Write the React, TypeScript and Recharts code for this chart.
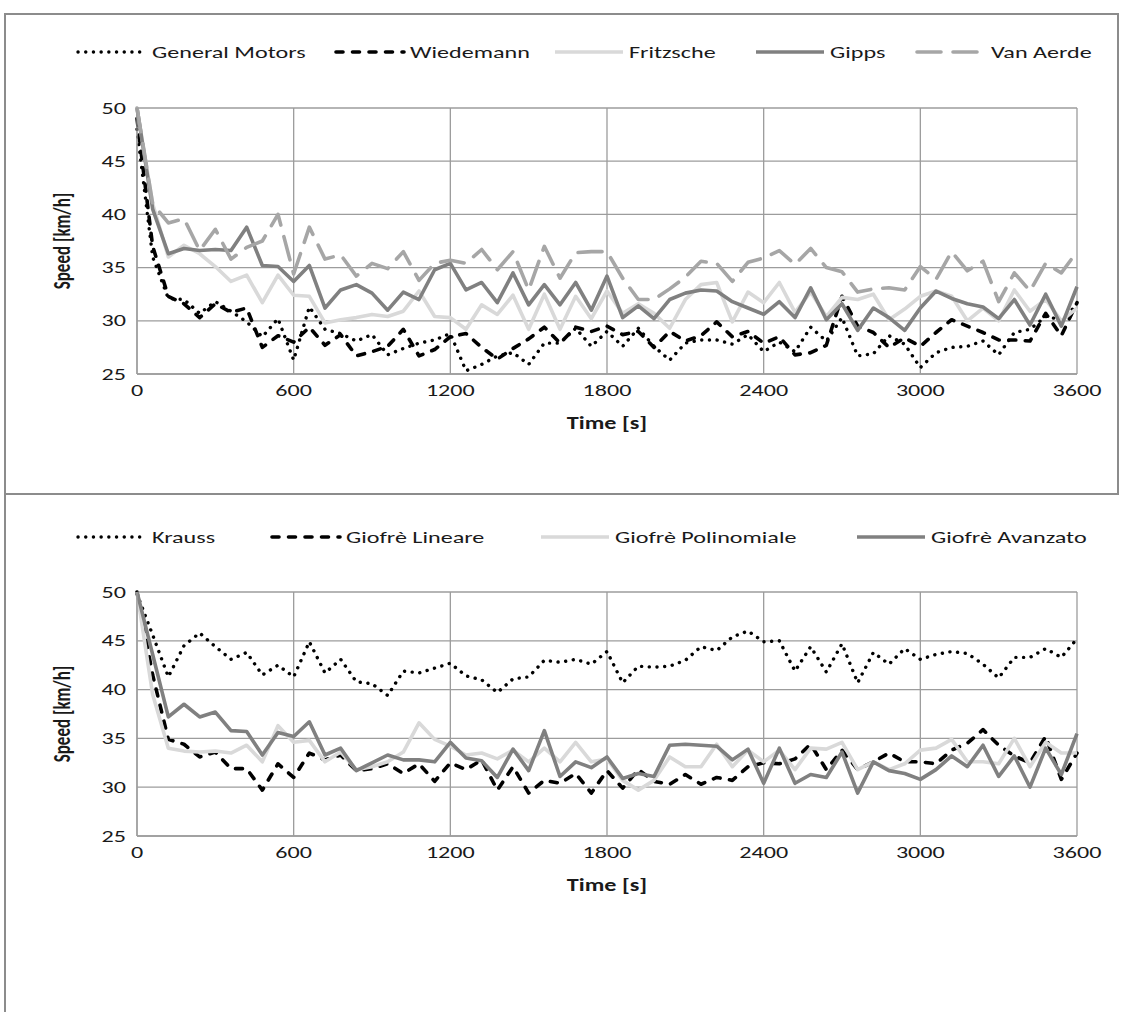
import React from 'react';
import { LineChart, Line, XAxis, YAxis, CartesianGrid } from 'recharts';

// ---------- data ----------
const TIME = [0, 60, 120, 180, 240, 300, 360, 420, 480, 540, 600, 660, 720, 780, 840, 900, 960, 1020, 1080, 1140, 1200, 1260, 1320, 1380, 1440, 1500, 1560, 1620, 1680, 1740, 1800, 1860, 1920, 1980, 2040, 2100, 2160, 2220, 2280, 2340, 2400, 2460, 2520, 2580, 2640, 2700, 2760, 2820, 2880, 2940, 3000, 3060, 3120, 3180, 3240, 3300, 3360, 3420, 3480, 3540, 3600];

const X_TICKS = [0, 600, 1200, 1800, 2400, 3000, 3600];
const Y_TICKS = [25, 30, 35, 40, 45, 50];

const GENERAL_MOTORS = [48, 36, 32.1, 32.0, 30.7, 31.8, 30.9, 29.9, 28.5, 30.2, 26.3, 31.3, 29.2, 28.8, 28.1, 28.7, 26.8, 27.4, 27.9, 28.2, 28.8, 25.3, 25.9, 26.7, 27.0, 25.9, 27.9, 27.9, 29.3, 27.6, 29.0, 27.6, 29.3, 27.6, 26.3, 27.9, 28.2, 28.2, 27.8, 28.7, 27.1, 28.0, 27.1, 29.4, 28.1, 30.3, 26.7, 26.9, 28.6, 27.8, 25.6, 27.0, 27.5, 27.6, 28.1, 26.8, 28.9, 29.2, 30.4, 30.1, 31.5];
const WIEDEMANN = [49, 37, 32.3, 31.6, 30.3, 31.6, 30.8, 31.2, 27.5, 28.6, 28.0, 29.4, 27.7, 28.7, 26.7, 27.1, 27.6, 29.2, 26.7, 27.3, 28.5, 28.8, 27.5, 26.4, 27.4, 28.3, 29.4, 27.9, 29.4, 29.0, 29.5, 28.7, 29.0, 27.5, 29.0, 28.1, 28.6, 29.9, 28.5, 29.0, 27.9, 28.5, 26.8, 27.0, 27.7, 32.3, 29.5, 28.9, 27.5, 28.4, 27.6, 28.9, 30.1, 29.5, 28.9, 28.2, 28.2, 28.1, 30.7, 28.6, 31.7];
const FRITZSCHE = [50, 41, 36.0, 37.1, 36.3, 35.1, 33.7, 34.3, 31.7, 34.3, 32.4, 32.3, 29.8, 30.1, 30.3, 30.6, 30.4, 30.9, 32.8, 30.4, 30.3, 29.2, 31.5, 30.6, 32.4, 29.2, 32.5, 29.2, 32.3, 30.2, 32.8, 30.7, 31.6, 30.7, 29.3, 32.0, 33.4, 33.6, 29.9, 32.7, 31.7, 33.6, 30.8, 32.7, 30.4, 32.2, 32.0, 32.5, 30.1, 31.1, 32.3, 32.8, 32.3, 30.0, 31.2, 30.0, 32.9, 30.9, 32.0, 30.0, 31.2];
const GIPPS = [50, 40.5, 36.3, 36.8, 36.6, 36.7, 36.6, 38.8, 35.2, 35.1, 33.7, 35.2, 31.2, 32.9, 33.4, 32.6, 31.0, 32.7, 32.0, 34.8, 35.4, 32.9, 33.6, 31.7, 34.5, 31.5, 33.4, 31.5, 33.6, 31.0, 34.2, 30.3, 31.4, 30.2, 32.0, 32.6, 32.9, 32.8, 31.8, 31.2, 30.6, 31.8, 30.3, 33.1, 30.1, 31.6, 29.1, 31.2, 30.3, 29.1, 31.2, 32.8, 32.1, 31.6, 31.3, 30.2, 32.0, 29.6, 32.5, 29.5, 33.2];
const VAN_AERDE = [50, 41, 39.2, 39.6, 36.6, 38.6, 35.8, 36.9, 37.5, 40.0, 34.4, 38.8, 35.8, 36.2, 34.2, 35.4, 34.9, 36.5, 33.8, 35.4, 35.7, 35.4, 36.7, 34.8, 36.5, 32.9, 37.0, 34.0, 36.4, 36.5, 36.5, 34.0, 32.0, 32.0, 33.0, 34.1, 35.6, 35.4, 33.7, 35.5, 35.9, 36.6, 35.3, 36.8, 35.0, 34.6, 32.7, 33.0, 33.1, 32.9, 35.1, 33.9, 36.5, 34.7, 35.6, 31.8, 34.5, 32.8, 35.4, 34.5, 36.5];

const KRAUSS = [49.8, 45.6, 41.3, 44.5, 45.8, 44.4, 43.1, 43.8, 41.5, 42.5, 41.3, 44.9, 41.7, 43.1, 40.8, 40.6, 39.4, 41.9, 41.7, 42.2, 42.7, 41.4, 41.0, 39.7, 41.1, 41.3, 43.0, 42.8, 43.1, 42.6, 43.9, 40.7, 42.4, 42.3, 42.4, 43.0, 44.4, 44.0, 45.4, 46.0, 44.9, 45.0, 41.9, 44.4, 41.8, 44.7, 40.7, 43.8, 42.6, 44.2, 43.1, 43.6, 43.9, 43.7, 42.6, 41.2, 43.3, 43.3, 44.2, 43.3, 45.2];
const GIOFRE_LINEARE = [50, 41.5, 34.9, 34.4, 33.1, 33.6, 31.9, 31.9, 29.7, 32.4, 31.0, 33.5, 32.8, 33.3, 31.7, 31.9, 32.4, 31.4, 32.4, 30.6, 32.5, 31.8, 32.8, 29.7, 32.1, 29.4, 30.7, 30.4, 31.4, 29.4, 31.7, 29.9, 31.8, 30.6, 30.3, 31.3, 30.3, 31.0, 30.7, 32.1, 32.5, 32.4, 32.9, 34.4, 31.8, 33.8, 31.8, 32.6, 33.5, 32.6, 32.6, 32.4, 33.8, 34.5, 35.9, 34.3, 33.2, 32.5, 35.2, 30.8, 33.5];
const GIOFRE_POLINOMIALE = [50, 39.5, 34.0, 33.7, 33.6, 33.7, 33.5, 34.3, 32.6, 36.3, 34.6, 34.8, 32.6, 33.6, 31.8, 32.1, 32.6, 33.6, 36.6, 34.9, 34.2, 33.3, 33.5, 32.9, 33.8, 32.6, 34.0, 32.6, 34.6, 32.6, 32.9, 30.7, 29.7, 30.7, 33.1, 32.1, 32.1, 34.4, 32.1, 33.8, 32.6, 33.8, 31.8, 34.0, 33.9, 34.6, 31.8, 32.6, 31.8, 32.4, 33.8, 34.0, 34.9, 32.6, 32.6, 32.4, 35.0, 32.1, 34.6, 33.5, 33.5];
const GIOFRE_AVANZATO = [50, 43.6, 37.2, 38.5, 37.2, 37.7, 35.8, 35.7, 33.3, 35.6, 35.2, 36.7, 33.3, 34.0, 31.7, 32.5, 33.3, 32.8, 32.8, 32.6, 34.6, 33.0, 32.7, 31.0, 33.9, 31.7, 35.8, 31.1, 32.6, 32.0, 33.1, 30.9, 31.4, 31.1, 34.3, 34.4, 34.3, 34.2, 32.8, 33.9, 30.4, 34.0, 30.4, 31.3, 31.0, 33.6, 29.4, 32.6, 31.7, 31.4, 30.8, 31.8, 33.2, 32.1, 34.3, 31.1, 33.2, 30.0, 34.0, 31.3, 35.5];

// ---------- tables built from the arrays ----------
const TOP_ROWS = TIME.map((t, i) => ({
  t,
  gm: GENERAL_MOTORS[i],
  wied: WIEDEMANN[i],
  fritz: FRITZSCHE[i],
  gipps: GIPPS[i],
  van: VAN_AERDE[i],
}));

const BOTTOM_ROWS = TIME.map((t, i) => ({
  t,
  krauss: KRAUSS[i],
  lin: GIOFRE_LINEARE[i],
  pol: GIOFRE_POLINOMIALE[i],
  avz: GIOFRE_AVANZATO[i],
}));

// ---------- styles ----------
const FONT = 'Carlito, Calibri, Lato, "Open Sans", sans-serif';
const FS = 17;
const SX = 1.42; // horizontal stretch of the reference's text
const INK = '#1a1a1a';
const GRID = '#9c9c9c';
const FRAME = '#8c8c8c';

type Sty = { key: string; name: string; color: string; width: number; dash?: string; cap?: 'round' | 'butt' };

const DOT = { color: '#000000', width: 3.4, dash: '0.1 7.6', cap: 'round' as const };
const DASH = { color: '#000000', width: 3.6, dash: '7 9.5', cap: 'round' as const };
const LIGHT = { color: '#d9d9d9', width: 3.6 };
const DARK = { color: '#808080', width: 3.6 };
const LONG = { color: '#a6a6a6', width: 3.6, dash: '24 12', cap: 'round' as const };

const TOP_STYLES: Sty[] = [
  { key: 'gm', name: 'General Motors', ...DOT },
  { key: 'wied', name: 'Wiedemann', ...DASH },
  { key: 'fritz', name: 'Fritzsche', ...LIGHT },
  { key: 'gipps', name: 'Gipps', ...DARK },
  { key: 'van', name: 'Van Aerde', ...LONG },
];

const BOTTOM_STYLES: Sty[] = [
  { key: 'krauss', name: 'Krauss', ...DOT },
  { key: 'lin', name: 'Giofrè Lineare', ...DASH },
  { key: 'pol', name: 'Giofrè Polinomiale', ...LIGHT },
  { key: 'avz', name: 'Giofrè Avanzato', ...DARK },
];

// legend layout: [sampleStart, sampleEnd, textStart] in page px
const TOP_LEGEND_POS = [
  [78, 146, 152],
  [336, 404, 410],
  [555, 623, 629],
  [756, 824, 830],
  [917, 985, 991],
];
const BOTTOM_LEGEND_POS = [
  [78, 146, 152],
  [272, 340, 346],
  [541, 609, 615],
  [857, 925, 931],
];

function SText({ x, y, anchor = 'start', bold = false, children, baseline = 'central' }: any) {
  return (
    <g transform={`translate(${x} ${y}) scale(${SX} 1)`}>
      <text
        x={0}
        y={0}
        textAnchor={anchor}
        dominantBaseline={baseline}
        fontFamily={FONT}
        fontSize={FS}
        fontWeight={bold ? 700 : 400}
        fill={INK}
      >
        {children}
      </text>
    </g>
  );
}

function Legend({ styles, pos, y }: { styles: Sty[]; pos: number[][]; y: number }) {
  return (
    <svg style={{ position: 'absolute', left: 0, top: y - 15, overflow: 'visible' }} width={1121} height={30}>
      {styles.map((s, i) => {
        const [a, b, tx] = pos[i];
        return (
          <g key={s.key}>
            <line
              x1={a}
              x2={b}
              y1={15}
              y2={15}
              stroke={s.color}
              strokeWidth={s.width}
              strokeDasharray={s.dash}
              strokeLinecap={s.cap || 'butt'}
            />
            <SText x={tx} y={15}>{s.name}</SText>
          </g>
        );
      })}
    </svg>
  );
}

const XTick = (p: any) => (
  <SText x={p.x} y={p.y + 16} anchor="middle">{p.payload.value}</SText>
);
const YTick = (p: any) => (
  <SText x={p.x} y={p.y} anchor="end">{p.payload.value}</SText>
);

function Panel({
  rows,
  styles,
  height,
  marginTop,
  marginBottom,
}: {
  rows: any[];
  styles: Sty[];
  height: number;
  marginTop: number;
  marginBottom: number;
}) {
  return (
    <LineChart
      width={1121}
      height={height}
      data={rows}
      margin={{ top: marginTop, right: 44, bottom: marginBottom, left: 77 }}
    >
      <CartesianGrid stroke={GRID} strokeWidth={1.3} />
      <XAxis
        dataKey="t"
        type="number"
        domain={[0, 3600]}
        ticks={X_TICKS}
        interval={0}
        tickLine={false}
        tickSize={0}
        tickMargin={0}
        axisLine={{ stroke: GRID, strokeWidth: 1.3 }}
        tick={XTick}
        height={58}
        label={(p: any) => {
          const vb = p.viewBox || {};
          const cx = (vb.x || 0) + (vb.width || 0) / 2;
          const cy = (vb.y || 0) + 49;
          return <SText x={cx} y={cy} anchor="middle" bold>Time [s]</SText>;
        }}
      />
      <YAxis
        type="number"
        domain={[25, 50]}
        ticks={Y_TICKS}
        interval={0}
        tickLine={false}
        tickSize={0}
        tickMargin={11}
        axisLine={{ stroke: GRID, strokeWidth: 1.3 }}
        tick={YTick}
        width={60}
        label={(p: any) => {
          const vb = p.viewBox || {};
          const cy = (vb.y || 0) + (vb.height || 0) / 2;
          return (
            <g transform={`translate(62 ${cy}) scale(${SX} 1) rotate(-90)`}>
              <text
                x={0}
                y={0}
                textAnchor="middle"
                dominantBaseline="central"
                fontFamily={FONT}
                fontSize={FS}
                fontWeight={700}
                fill={INK}
              >
                Speed [km/h]
              </text>
            </g>
          );
        }}
      />
      {styles.map((s) => (
        <Line
          key={s.key}
          dataKey={s.key}
          name={s.name}
          type="linear"
          stroke={s.color}
          strokeWidth={s.width}
          strokeDasharray={s.dash}
          strokeLinecap={s.cap || 'butt'}
          strokeLinejoin="round"
          dot={false}
          activeDot={false}
          isAnimationActive={false}
        />
      ))}
    </LineChart>
  );
}

export default function App() {
  return (
    <div style={{ position: 'absolute', left: 0, top: 0, width: 1121, height: 1012, background: '#fff', overflow: 'hidden' }}>
      {/* panel frames */}
      <div style={{ position: 'absolute', left: 4, top: 13, width: 1115, height: 2, background: FRAME }} />
      <div style={{ position: 'absolute', left: 4, top: 13, width: 2, height: 999, background: FRAME }} />
      <div style={{ position: 'absolute', left: 1117, top: 13, width: 2, height: 482, background: FRAME }} />
      <div style={{ position: 'absolute', left: 4, top: 493, width: 1115, height: 2, background: FRAME }} />

      <div style={{ position: 'absolute', left: 0, top: 0 }}>
        <Panel rows={TOP_ROWS} styles={TOP_STYLES} height={494} marginTop={108} marginBottom={62} />
      </div>
      <div style={{ position: 'absolute', left: 0, top: 494 }}>
        <Panel rows={BOTTOM_ROWS} styles={BOTTOM_STYLES} height={518} marginTop={98} marginBottom={118} />
      </div>

      <Legend styles={TOP_STYLES} pos={TOP_LEGEND_POS} y={52} />
      <Legend styles={BOTTOM_STYLES} pos={BOTTOM_LEGEND_POS} y={537} />
    </div>
  );
}
